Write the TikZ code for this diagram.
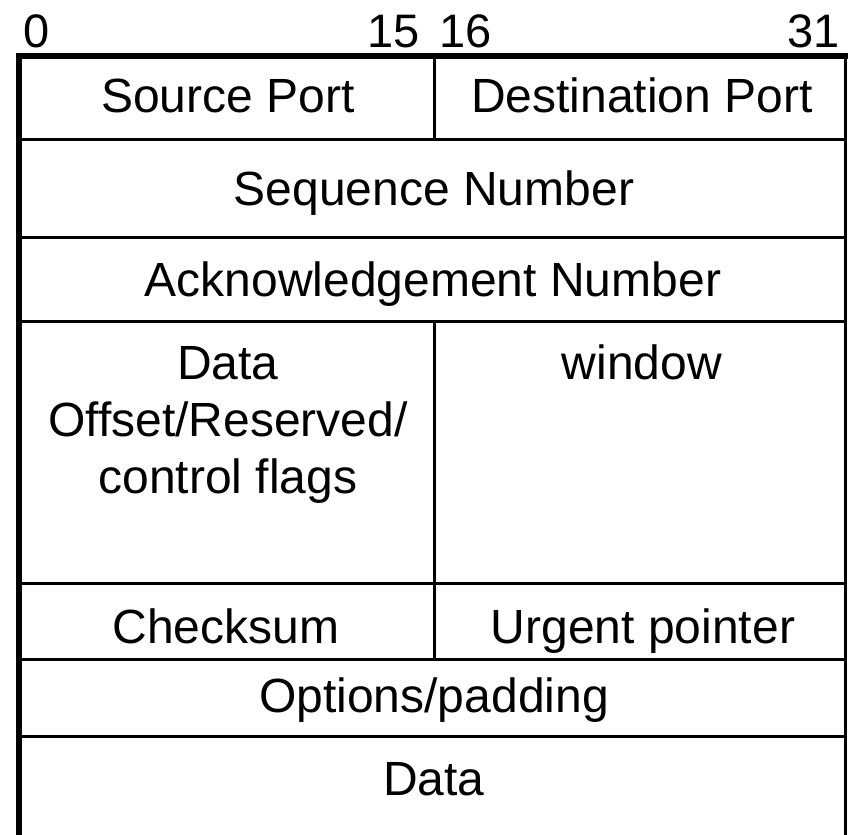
\documentclass[tikz,border=0pt]{standalone}
\usepackage{fontspec}
\setmainfont{Liberation Sans}
\begin{document}
\begin{tikzpicture}[x=1pt,y=-1pt,
  field/.style={font=\fontsize{48}{57}\selectfont, anchor=base, inner sep=0pt, align=center},
  bitno/.style={font=\fontsize{47}{57}\selectfont, inner sep=0pt},
  rule/.style={line width=3pt},
  heavy/.style={line width=6pt}]
\useasboundingbox (0,0) rectangle (849,835);

% bit numbers above the header
\node[bitno, anchor=base west] (b0)  at (23,47)  {0};
\node[bitno, anchor=base east] (b15) at (420,47) {15};
\node[bitno, anchor=base west] (b16) at (439,47) {16};
\node[bitno, anchor=base east] (b31) at (840,47) {31};

% outer frame: heavy top and left edges, thin right edge
\draw[heavy] (16,56) -- (848,56);
\draw[heavy] (19,53) -- (19,835);
\draw[line width=2.5pt] (845.5,56) -- (845.5,835);

% row separators
\foreach \y in {139.5,237.5,321.5,583.5,659.5,736.5}
  \draw[rule] (19,\y) -- (845.5,\y);

% column divider between bits 15 and 16
\draw[rule] (434.5,56) -- (434.5,139.5);
\draw[rule] (434.5,321.5) -- (434.5,659.5);

% field labels (multi-line labels sit on the baseline of their last line)
\node[field] (sport) at (228,112)    {Source Port};
\node[field] (dport) at (642,112)    {Destination Port};
\node[field] (seq)   at (434,205)    {Sequence Number};
\node[field] (ack)   at (433,296)    {Acknowledgement Number};
\node[field] (doff)  at (228,493)    {Data\\Offset/Reserved/\\control flags};
\node[field] (win)   at (642,379)    {window};
\node[field] (csum)  at (226,643)    {Checksum};
\node[field] (urg)   at (643,643)    {Urgent pointer};
\node[field] (opt)   at (434,712)    {Options/padding};
\node[field] (data)  at (434,795)    {Data};
\end{tikzpicture}
\end{document}
